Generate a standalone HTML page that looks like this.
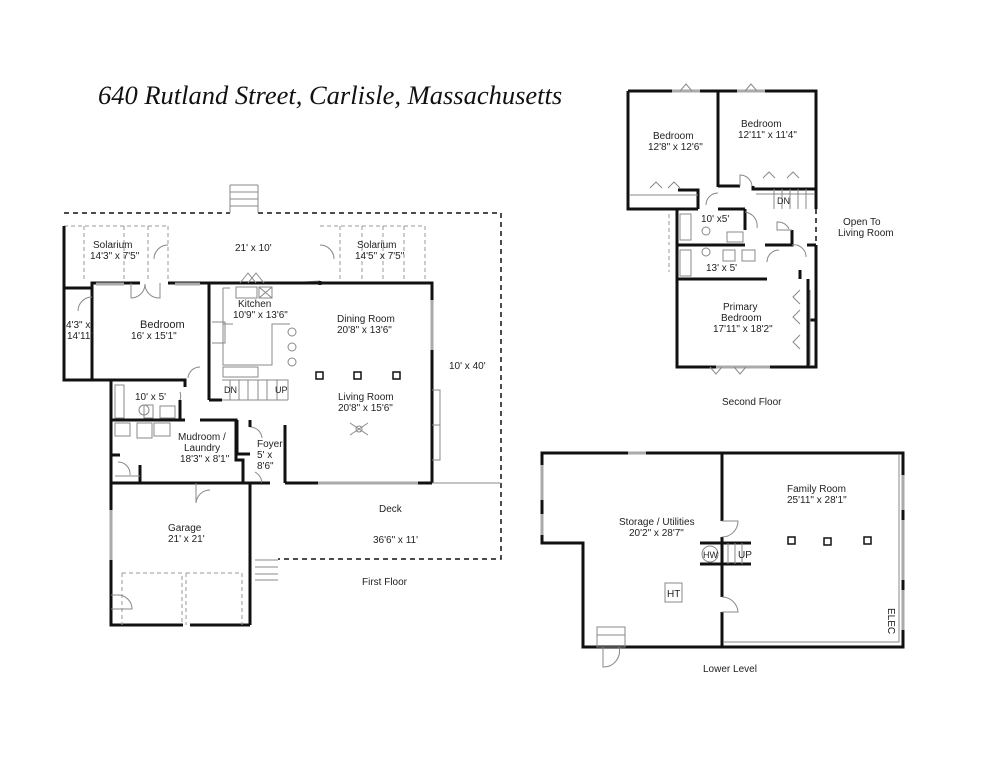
<!DOCTYPE html>
<html><head><meta charset="utf-8"><style>
html,body{margin:0;padding:0;background:#fff}
svg{display:block}
text{font-family:"Liberation Sans",sans-serif;font-size:10px;fill:#222}
.w{stroke:#111;stroke-width:3;fill:none}
.t{stroke:#888;stroke-width:1;fill:none}
.d{stroke:#111;stroke-width:1.5;fill:none;stroke-dasharray:5,4}
.dg{stroke:#999;stroke-width:1;fill:none;stroke-dasharray:4,3}
.g{stroke:#aaa;stroke-width:3;fill:none}
</style></head><body>
<svg width="994" height="768" viewBox="0 0 994 768">
<text x="98" y="104" style="font-family:'Liberation Serif',serif;font-style:italic;font-size:26.5px;fill:#111">640 Rutland Street, Carlisle, Massachusetts</text>

<!-- FIRST FLOOR -->
<path class="d" d="M64 213 H230 M258 213 H501 V559 H278"/>
<path class="t" d="M230 185 H258 M230 192 H258 M230 199 H258 M230 206 H258 M230 185 V213 M258 185 V213"/>
<path class="t" d="M255 560 H278 M255 567 H278 M255 574 H278 M255 580 H278"/>
<path class="dg" d="M64 226 H168 M84 226 V282 M124 226 V282 M148 226 V282 M168 226 V282 M320 226 H425 V283 M340 226 V283 M362 226 V283 M383 226 V283 M404 226 V283 M168 226 V282"/>
<path class="t" d="M168 245 A14 14 0 0 0 154 259 M320 245 A14 14 0 0 1 334 259 M288 283 L320 281 M64 226 V288"/>
<path class="w" d="M64 226 V380 H92 M92 380 H180 M92 288 V283 H140 M168 283 H209 V400 M64 288 H92 V380 M209 283 H288 M209 400 H222 M288 283 H432 V483"/>
<path class="w" d="M320 281 V285 M425 283 H432"/>
<path class="t" d="M131 283 V298 A14 14 0 0 0 145 284 M160 283 V298 A14 14 0 0 1 145 284 M92 297 A14 14 0 0 0 78 311 M200 367 A12 12 0 0 0 188 378"/>
<path class="g" d="M96 284 H124 M175 284 H200"/>
<path class="t" d="M223 288 V365 H272 V324 H290 M223 288 H230 M236 287 H257 V298 H236 Z M259 287 H272 V298 H259 Z M259 287 L272 298 M272 287 L259 298 M233 324 H223 M212 322 H225 V343 H212"/>
<circle class="t" cx="292" cy="332" r="4"/><circle class="t" cx="292" cy="347" r="4"/><circle class="t" cx="292" cy="362" r="4"/>
<path class="t" d="M240 283 L248 273 L256 283 M248 283 L256 273 L264 283"/>
<path class="t" d="M223 367 H258 V377 H223 Z M222 380 H288 V400 M230 380 V400 M239 380 V400 M248 380 V400 M258 380 V400 M267 380 V400 M277 380 V400 M222 400 H288"/>
<text x="224" y="393" style="font-size:9px">DN</text><text x="275" y="393" style="font-size:9px">UP</text>
<path class="w" d="M111 380 V625 H183 M190 625 H250 M250 483 V625 M111 420 H185 M200 420 H236 V460 H243 V483 M180 380 H185 V387 M180 420 V400"/>
<path class="t" d="M115 385 H124 V418 H115 Z M144 405 H153 V418 H144 Z M160 406 H175 V418 H160 Z M115 423 H130 V436 H115 Z M137 423 H152 V438 H137 Z M154 423 H170 V436 H154 Z M180 392 A12 12 0 0 1 180 400"/>
<circle class="t" cx="144" cy="410" r="5"/>
<path class="w" d="M111 483 H250 M111 455 H120 M140 465 V483 M250 483 H270 M285 483 H432"/>
<path class="t" d="M118 462 A12 12 0 0 1 130 475 M115 476 H140 M196 483 V503 A14 14 0 0 1 210 490 M255 472 A14 14 0 0 1 262 483 M250 427 A12 12 0 0 1 262 438"/>
<path class="w" d="M237 420 V454 H250 M250 427 V420 M285 425 V483 M262 483 H270"/>
<path class="g" d="M318 483 H418 M432 300 V350 M111 510 V560"/>
<path class="t" d="M432 390 H440 V460 H432 M432 425 H440 M432 483 H501"/>
<path class="dg" d="M122 573 H182 V625 M122 573 V625 M186 573 H242 V625 M186 573 V625"/>
<path class="t" d="M111 595 H118 A14 14 0 0 1 132 609 H111"/>
<rect class="w" style="stroke-width:1.5" x="316" y="372" width="7" height="7"/>
<rect class="w" style="stroke-width:1.5" x="354" y="372" width="7" height="7"/>
<rect class="w" style="stroke-width:1.5" x="393" y="372" width="7" height="7"/>
<path class="t" d="M350 423 L368 435 M368 423 L350 435"/><circle class="t" cx="359" cy="429" r="3"/>
<text x="93" y="248">Solarium</text><text x="90" y="259">14'3" x 7'5"</text>
<text x="235" y="251">21' x 10'</text>
<text x="357" y="248">Solarium</text><text x="355" y="259">14'5" x 7'5"</text>
<text x="140" y="328" style="font-size:11px">Bedroom</text><text x="131" y="339">16' x 15'1"</text>
<text x="66" y="328">4'3" x</text><text x="67" y="339">14'11"</text>
<text x="238" y="307">Kitchen</text><text x="233" y="318">10'9" x 13'6"</text>
<text x="337" y="322">Dining Room</text><text x="337" y="333">20'8" x 13'6"</text>
<text x="449" y="369">10' x 40'</text>
<text x="135" y="400">10' x 5'</text>
<text x="338" y="400">Living Room</text><text x="338" y="411">20'8" x 15'6"</text>
<text x="178" y="440">Mudroom /</text><text x="184" y="451">Laundry</text><text x="180" y="462">18'3" x 8'1"</text>
<text x="257" y="447">Foyer</text><text x="257" y="458">5' x</text><text x="257" y="469">8'6"</text>
<text x="379" y="512">Deck</text>
<text x="168" y="531">Garage</text><text x="168" y="542">21' x 21'</text>
<text x="373" y="543">36'6" x 11'</text>
<text x="362" y="585">First Floor</text>

<!-- SECOND FLOOR -->
<path class="w" d="M628 91 H816 V209 M816 245 V367 H677 V245 M628 91 V209 H698 M718 91 V175 M718 187 V175 M718 186 H740 M753 186 V189 H816 M698 209 V190 H678 M718 209 H745 M677 209 V279 H767 M677 245 H745 M745 209 V230 M765 245 H792 V230 M807 245 H816 M800 279 V270 M808 279 V367 M808 320 H816"/>
<path class="d" d="M816 209 V245"/>
<path class="g" d="M672 91 H700 M737 91 H765 M716 367 H770"/>
<path class="t" d="M740 186 V175 A12 12 0 0 1 752 186 M718 193 A12 12 0 0 0 706 205 M629 195 H698 M756 194 H815 M774 189 V209 M782 189 V209 M790 189 V209 M798 189 V209 M806 189 V209 M680 214 H691 V240 H680 Z M680 250 H691 V276 H680 Z M727 232 H743 V242 H727 Z M723 250 H735 V261 H723 Z M742 250 H755 V261 H742 Z M745 212 A14 14 0 0 1 757 228 M767 262 A12 12 0 0 1 779 250 M792 245 A12 12 0 0 1 806 257 M792 230 H777 V222 A12 12 0 0 1 789 229 M810 290 V365 M710 367 L716 374 L722 367 M734 367 L740 374 L746 367 M800 290 L793 297 L800 304 M800 310 L793 317 L800 324 M800 335 L793 342 L800 349 M680 91 L686 84 L692 91 M745 91 L751 84 L757 91 M650 188 L656 182 L662 188 M668 188 L674 182 L680 188 M763 178 L769 172 L775 178 M787 178 L793 172 L799 178"/>
<path class="dg" d="M669 214 V245 M669 249 V272"/>
<circle class="t" cx="706" cy="231" r="4"/><circle class="t" cx="706" cy="252" r="4"/>
<text x="653" y="139">Bedroom</text><text x="648" y="150">12'8" x 12'6"</text>
<text x="741" y="127">Bedroom</text><text x="738" y="138">12'11" x 11'4"</text>
<text x="777" y="204" style="font-size:9px">DN</text>
<text x="701" y="222">10' x5'</text>
<text x="843" y="225">Open To</text><text x="838" y="236">Living Room</text>
<text x="706" y="271">13' x 5'</text>
<text x="723" y="310">Primary</text><text x="721" y="321">Bedroom</text><text x="713" y="332">17'11" x 18'2"</text>
<text x="722" y="405">Second Floor</text>

<!-- LOWER LEVEL -->
<path class="w" d="M542 453 H903 V647 H583 V543 H542 Z M722 453 V521 M722 537 V597 M722 612 V647 M700 543 H751 M700 564 H751"/>
<path class="g" d="M628 453 H646 M542 465 V500 M542 514 V535 M903 475 V510 M903 520 V580 M903 590 V630"/>
<path class="t" d="M899 455 V642 H724 M722 521 H738 A16 16 0 0 1 722 537 M722 597 A16 16 0 0 1 738 612 H722 M728 543 V564 M735 543 V564 M742 543 V564 M665 583 H682 V602 H665 Z M597 627 H625 V647 H597 Z M597 635 H625 M603 647 V667 A16 16 0 0 0 619 647"/>
<circle class="t" cx="710" cy="554" r="8"/>
<rect class="w" style="stroke-width:1.5" x="788" y="537" width="7" height="7"/>
<rect class="w" style="stroke-width:1.5" x="824" y="538" width="7" height="7"/>
<rect class="w" style="stroke-width:1.5" x="864" y="537" width="7" height="7"/>
<text x="787" y="492">Family Room</text><text x="787" y="503">25'11" x 28'1"</text>
<text x="619" y="525">Storage / Utilities</text><text x="629" y="536">20'2" x 28'7"</text>
<text x="703" y="558" style="font-size:9px">HW</text><text x="738" y="558">UP</text>
<text x="667" y="597">HT</text>
<text x="888" y="608" transform="rotate(90 888 608)">ELEC</text>
<text x="703" y="672">Lower Level</text>
</svg>
</body></html>
